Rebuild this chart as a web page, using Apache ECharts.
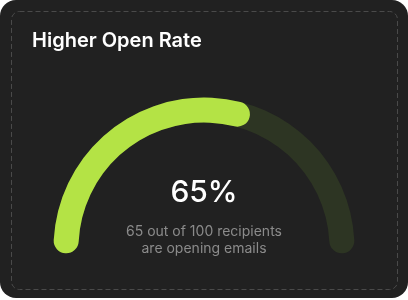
<!DOCTYPE html>
<html>
<head>
<meta charset="utf-8">
<script src="https://cdn.jsdelivr.net/npm/echarts@6/dist/echarts.min.js"></script>
<style>
html,body{margin:0;padding:0;background:#ffffff;}
#chart{width:408px;height:300px;}
</style>
</head>
<body>
<div id="chart"></div>
<script>
// ---- data ----
const chartTitle = "Higher Open Rate";
const openedCount = 65;
const totalRecipients = 100;
const subtitleLines = [
  openedCount + " out of " + totalRecipients + " recipients",
  "are opening emails"
];

const chart = echarts.init(document.getElementById('chart'), null, {renderer: 'canvas'});

const CX = 204, CY = 248, RADIUS = 150.5, WIDTH = 25;
const GREEN = '#b4e345', TRACK = '#2d3523';

chart.setOption({
  backgroundColor: '#ffffff',
  animation: false,
  graphic: [
    {type: 'rect', z: 0, shape: {x: 0, y: 0, width: 408, height: 298, r: 16}, style: {fill: '#212121'}},
    {type: 'rect', z: 1, shape: {x: 11.5, y: 11.5, width: 386, height: 278, r: 8},
      style: {fill: 'none', stroke: '#4a4a4a', lineWidth: 1, lineDash: [5, 3]}},
    {type: 'text', z: 5, x: 32, y: 41,
      style: {text: chartTitle, fill: '#ffffff', font: '600 20px Inter', verticalAlign: 'middle', align: 'left'}},
    {type: 'text', z: 5, x: 204, y: 240.5,
      style: {text: subtitleLines.join('\n'), fill: '#8b8b8b', font: '400 14px Inter', lineHeight: 16.5,
        align: 'center', verticalAlign: 'middle'}}
  ],
  series: [
    {
      type: 'gauge', z: 2,
      center: [CX, CY], radius: RADIUS,
      startAngle: 177, endAngle: 3, min: 0, max: totalRecipients,
      axisLine: {roundCap: true, lineStyle: {width: WIDTH, color: [[1, TRACK]]}},
      progress: {show: false}, pointer: {show: false}, axisTick: {show: false},
      splitLine: {show: false}, axisLabel: {show: false}, detail: {show: false}, title: {show: false},
      data: [{value: totalRecipients}]
    },
    {
      type: 'gauge', z: 3,
      center: [CX, CY], radius: RADIUS,
      startAngle: 177, endAngle: 21.6, min: 0, max: totalRecipients,
      axisLine: {show: false},
      progress: {show: true, roundCap: true, width: WIDTH, itemStyle: {color: GREEN}},
      pointer: {show: false}, axisTick: {show: false}, splitLine: {show: false}, axisLabel: {show: false},
      title: {show: false},
      detail: {
        show: true, offsetCenter: [0, -55], valueAnimation: false,
        formatter: function (v) { return Math.round(v / totalRecipients * 100) + '%'; },
        color: '#ffffff', fontFamily: 'Inter', fontWeight: 500, fontSize: 30
      },
      data: [{value: openedCount}]
    }
  ]
});
</script>
</body>
</html>
